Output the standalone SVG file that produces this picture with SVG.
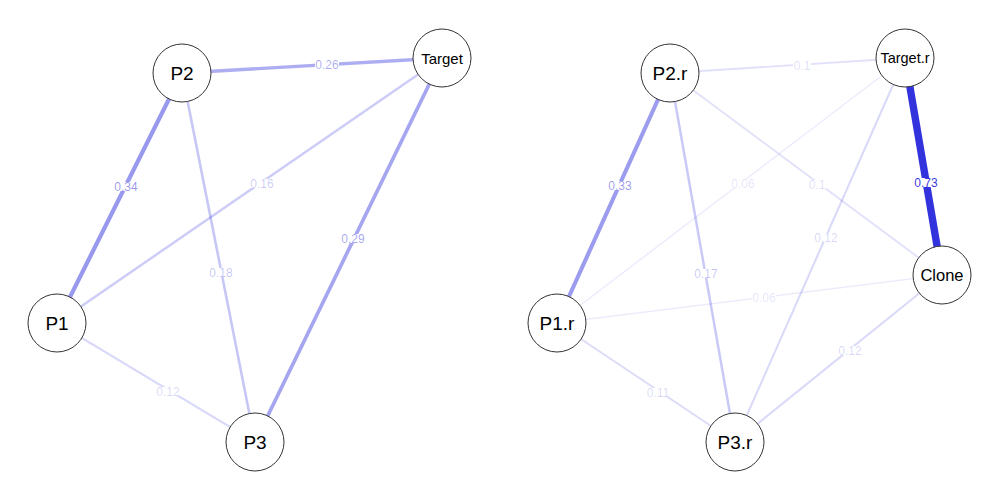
<svg xmlns="http://www.w3.org/2000/svg" width="1000" height="500" viewBox="0 0 1000 500">
  <style>
    .edge { stroke: #0000D5; fill: none; stroke-linecap: butt; }
    .lbl { font-family: "Liberation Sans", Arial, sans-serif; font-size: 12px; text-anchor: middle; fill: #0000D5; }
    .lblbg { fill: #ffffff; }
    .node circle { fill: #ffffff; stroke: #333333; stroke-width: 1; }
    .node text { font-family: "Liberation Sans", Arial, sans-serif; text-anchor: middle; fill: #000000; }
  </style>
  <rect width="1000" height="500" fill="#ffffff"/>

  <g id="connectors">
    <!-- left network -->
    <line class="edge" x1="182" y1="73" x2="442" y2="58" stroke-width="3.4" stroke-opacity="0.32"/>
    <line class="edge" x1="57" y1="323" x2="182" y2="73" stroke-width="4.2" stroke-opacity="0.40"/>
    <line class="edge" x1="57" y1="323" x2="442" y2="58" stroke-width="2.5" stroke-opacity="0.20"/>
    <line class="edge" x1="182" y1="73" x2="255" y2="442" stroke-width="2.6" stroke-opacity="0.22"/>
    <line class="edge" x1="442" y1="58" x2="255" y2="442" stroke-width="3.7" stroke-opacity="0.35"/>
    <line class="edge" x1="57" y1="323" x2="255" y2="442" stroke-width="2.1" stroke-opacity="0.15"/>

    <!-- right network -->
    <line class="edge" x1="670" y1="73" x2="905" y2="58" stroke-width="1.9" stroke-opacity="0.12"/>
    <line class="edge" x1="557" y1="323" x2="670" y2="73" stroke-width="4.1" stroke-opacity="0.39"/>
    <line class="edge" x1="557" y1="323" x2="905" y2="58" stroke-width="1.5" stroke-opacity="0.08"/>
    <line class="edge" x1="670" y1="73" x2="942" y2="275" stroke-width="1.9" stroke-opacity="0.12"/>
    <line class="edge" x1="905" y1="58" x2="942" y2="275" stroke-width="7.4" stroke-opacity="0.80"/>
    <line class="edge" x1="905" y1="58" x2="735" y2="442" stroke-width="2.1" stroke-opacity="0.15"/>
    <line class="edge" x1="670" y1="73" x2="735" y2="442" stroke-width="2.5" stroke-opacity="0.21"/>
    <line class="edge" x1="557" y1="323" x2="942" y2="275" stroke-width="1.5" stroke-opacity="0.08"/>
    <line class="edge" x1="942" y1="275" x2="735" y2="442" stroke-width="2.1" stroke-opacity="0.15"/>
    <line class="edge" x1="557" y1="323" x2="735" y2="442" stroke-width="2.0" stroke-opacity="0.14"/>

    <!-- edge weight labels -->
    <g>
      <rect class="lblbg" x="315" y="60" width="24" height="9"/>
      <text class="lbl" x="327" y="68.5" fill-opacity="0.34">0.26</text>
      <rect class="lblbg" x="114" y="182" width="24" height="9"/>
      <text class="lbl" x="126" y="190.5" fill-opacity="0.42">0.34</text>
      <rect class="lblbg" x="250" y="179" width="24" height="9"/>
      <text class="lbl" x="262" y="187.5" fill-opacity="0.22">0.16</text>
      <rect class="lblbg" x="209" y="268" width="24" height="9"/>
      <text class="lbl" x="221" y="276.5" fill-opacity="0.24">0.18</text>
      <rect class="lblbg" x="341" y="234" width="24" height="9"/>
      <text class="lbl" x="353" y="242.5" fill-opacity="0.37">0.29</text>
      <rect class="lblbg" x="156" y="387" width="24" height="9"/>
      <text class="lbl" x="168" y="395.5" fill-opacity="0.17">0.12</text>

      <rect class="lblbg" x="793" y="61" width="18" height="9"/>
      <text class="lbl" x="802" y="69.5" fill-opacity="0.15">0.1</text>
      <rect class="lblbg" x="608" y="181" width="24" height="9"/>
      <text class="lbl" x="620" y="189.5" fill-opacity="0.41">0.33</text>
      <rect class="lblbg" x="731" y="179" width="24" height="9"/>
      <text class="lbl" x="743" y="187.5" fill-opacity="0.12">0.06</text>
      <rect class="lblbg" x="808" y="180" width="18" height="9"/>
      <text class="lbl" x="817" y="188.5" fill-opacity="0.15">0.1</text>
      <rect class="lblbg" x="914" y="178" width="24" height="9"/>
      <text class="lbl" x="926" y="186.5" fill-opacity="0.80">0.73</text>
      <rect class="lblbg" x="814" y="233" width="24" height="9"/>
      <text class="lbl" x="826" y="241.5" fill-opacity="0.17">0.12</text>
      <rect class="lblbg" x="694" y="269" width="24" height="9"/>
      <text class="lbl" x="706" y="277.5" fill-opacity="0.23">0.17</text>
      <rect class="lblbg" x="752" y="293" width="24" height="9"/>
      <text class="lbl" x="764" y="301.5" fill-opacity="0.12">0.06</text>
      <rect class="lblbg" x="838" y="346" width="24" height="9"/>
      <text class="lbl" x="850" y="354.5" fill-opacity="0.17">0.12</text>
      <rect class="lblbg" x="646" y="388" width="24" height="9"/>
      <text class="lbl" x="658" y="396.5" fill-opacity="0.16">0.11</text>
    </g>
  </g>

  <!-- left network nodes -->
  <g id="P1" class="node"><circle cx="57" cy="323" r="29"/><text x="57" y="330" font-size="19">P1</text></g>
  <g id="P2" class="node"><circle cx="182" cy="73" r="29"/><text x="182" y="80" font-size="19">P2</text></g>
  <g id="P3" class="node"><circle cx="255" cy="442" r="29"/><text x="255" y="449" font-size="19">P3</text></g>
  <g id="Target" class="node"><circle cx="442" cy="58" r="29"/><text x="442" y="63.5" font-size="15">Target</text></g>

  <!-- right network nodes -->
  <g id="P1r" class="node"><circle cx="557" cy="323" r="29"/><text x="557" y="330" font-size="19">P1.r</text></g>
  <g id="P2r" class="node"><circle cx="670" cy="73" r="29"/><text x="670" y="80" font-size="19">P2.r</text></g>
  <g id="P3r" class="node"><circle cx="735" cy="442" r="29"/><text x="735" y="449" font-size="19">P3.r</text></g>
  <g id="Targetr" class="node"><circle cx="905" cy="58" r="29"/><text x="905" y="63" font-size="14.5">Target.r</text></g>
  <g id="Clone" class="node"><circle cx="942" cy="275" r="29"/><text x="942" y="281" font-size="16.5">Clone</text></g>
</svg>
